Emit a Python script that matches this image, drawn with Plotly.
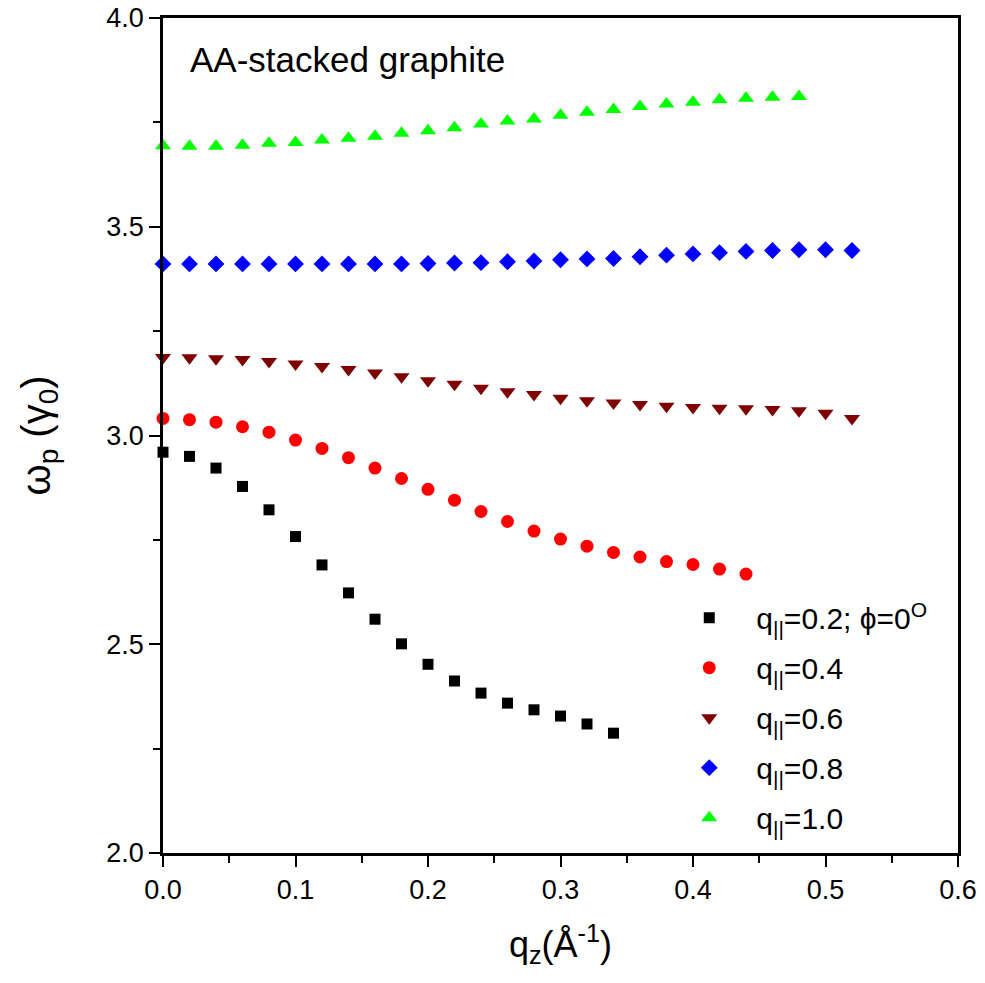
import plotly.graph_objects as go

qz_step = 0.02

black_y = [2.960, 2.950, 2.922, 2.878, 2.822, 2.758, 2.690, 2.623, 2.560, 2.501,
           2.452, 2.412, 2.383, 2.359, 2.343, 2.328, 2.309, 2.287]
red_y = [3.041, 3.038, 3.032, 3.021, 3.008, 2.989, 2.969, 2.947, 2.922, 2.897,
         2.871, 2.845, 2.818, 2.794, 2.771, 2.752, 2.735, 2.720, 2.709, 2.698,
         2.691, 2.680, 2.668]
darkred_y = [3.187, 3.186, 3.184, 3.182, 3.177, 3.171, 3.165, 3.158, 3.150, 3.141,
             3.131, 3.123, 3.113, 3.105, 3.098, 3.089, 3.083, 3.078, 3.074, 3.070,
             3.067, 3.065, 3.064, 3.062, 3.059, 3.053, 3.041]
blue_y = [3.411, 3.411, 3.411, 3.411, 3.411, 3.411, 3.411, 3.411, 3.411, 3.411,
          3.412, 3.413, 3.414, 3.416, 3.418, 3.421, 3.423, 3.424, 3.428, 3.432,
          3.435, 3.438, 3.441, 3.443, 3.445, 3.445, 3.443]
green_y = [3.694, 3.693, 3.693, 3.695, 3.700, 3.702, 3.708, 3.712, 3.717, 3.724,
           3.730, 3.737, 3.746, 3.753, 3.758, 3.767, 3.774, 3.781, 3.788, 3.794,
           3.798, 3.804, 3.808, 3.810, 3.812]

labels = ["q<sub>||</sub>=0.2; \u03d5=0<sup>O</sup>", "q<sub>||</sub>=0.4",
          "q<sub>||</sub>=0.6", "q<sub>||</sub>=0.8", "q<sub>||</sub>=1.0"]
series = [black_y, red_y, darkred_y, blue_y, green_y]
colors = ["#000000", "#FF0000", "#800000", "#0000FF", "#00FF00"]
symbols = ["square", "circle", "triangle-down", "diamond", "triangle-up"]
sizes = [11, 13, 14, 13, 14]

FONT = "Liberation Sans, Arial"

fig = go.Figure()
for i, (ys, lab, col, sym, sz) in enumerate(zip(series, labels, colors, symbols, sizes)):
    xs = [round(k * qz_step, 4) for k in range(len(ys))]
    fig.add_trace(go.Scatter(
        x=xs, y=ys, mode="markers", name=lab, legendgroup=f"g{i}",
        marker=dict(symbol=sym, color=col, size=sz, line=dict(width=0)),
        cliponaxis=False,
    ))

axis_common = dict(
    showline=True, linewidth=2.5, linecolor="black", mirror=True,
    ticks="outside", ticklen=11, tickwidth=2, tickcolor="black",
    showgrid=False, zeroline=False, automargin=False,
    ticklabeloverflow="allow",
    tickfont=dict(family=FONT, size=27, color="black"),
)

fig.update_xaxes(range=[0, 0.6], dtick=0.1, tickformat=".1f",
                 minor=dict(dtick=0.05, ticks="outside", ticklen=7, tickwidth=2, tickcolor="black"),
                 title=dict(text="q<sub>z</sub>(\u00c5<sup>-1</sup>)",
                            font=dict(family=FONT, size=36, color="black"),
                            standoff=28),
                 **axis_common)
fig.update_yaxes(range=[2.0, 4.0], dtick=0.5, tickformat=".1f",
                 minor=dict(dtick=0.25, ticks="outside", ticklen=7, tickwidth=2, tickcolor="black"),
                 title=dict(text="\u03c9<sub>p</sub> (\u03b3<sub>0</sub>)",
                            font=dict(family=FONT, size=40, color="black"),
                            standoff=44),
                 **axis_common)

fig.add_annotation(text="AA-stacked graphite", xref="paper", yref="paper",
                   x=0.031, y=0.95, xanchor="left", yanchor="middle", showarrow=False,
                   font=dict(family=FONT, size=35, color="black"))

fig.update_layout(
    width=977, height=975,
    margin=dict(l=155, r=27, t=10, b=130),
    paper_bgcolor="white", plot_bgcolor="white",
    showlegend=True,
    legend=dict(x=0.628, y=0.313, xanchor="left", yanchor="top",
                bgcolor="rgba(0,0,0,0)", itemwidth=84, tracegroupgap=8,
                font=dict(family=FONT, size=30, color="black")),
)

fig.write_html("out.html")
